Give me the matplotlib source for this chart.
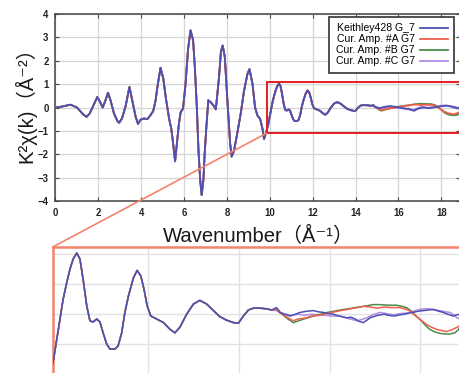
import matplotlib
matplotlib.use('Agg')
import matplotlib.pyplot as plt
from matplotlib.patches import Rectangle, ConnectionPatch

plt.rcParams['font.family'] = ['Liberation Sans', 'DejaVu Sans', 'Noto Sans CJK JP']

# ---- data ----
k_shared = [0, 0.3, 0.7, 1.0, 1.3, 1.45, 1.6, 1.8, 1.95, 2.1, 2.2, 2.33, 2.45, 2.57, 2.73,
            2.9, 2.97, 3.1, 3.27, 3.45, 3.58, 3.74, 3.85, 3.97, 4.13, 4.28, 4.4, 4.56, 4.67,
            4.75, 4.9, 5.03, 5.14, 5.3, 5.4, 5.47, 5.58, 5.65, 5.76, 5.84, 5.95, 6.07, 6.18,
            6.3, 6.42, 6.5, 6.6, 6.67, 6.75, 6.82, 6.9, 6.96, 7.04, 7.13, 7.27, 7.4, 7.48,
            7.63, 7.72, 7.8, 7.9, 8.02, 8.15, 8.22, 8.33, 8.49, 8.64, 8.8, 8.96, 9.05, 9.19,
            9.31, 9.42, 9.55, 9.66, 9.73, 9.85, 9.92, 9.99, 10.06, 10.13, 10.21, 10.28, 10.35,
            10.43, 10.5, 10.57, 10.65, 10.72, 10.79, 10.87, 10.94, 11.01, 11.09, 11.16, 11.27,
            11.34, 11.42, 11.49, 11.57, 11.68, 11.76, 11.84, 11.91, 11.98, 12.06, 12.19, 12.34,
            12.48, 12.59, 12.7, 12.85, 13.0, 13.14, 13.29, 13.44, 13.58, 13.73, 13.88, 13.99,
            14.1, 14.21, 14.32, 14.47, 14.61, 14.72]
chi_shared = [0, 0.04, 0.12, 0.0, -0.3, -0.4, -0.25, 0.15, 0.45, 0.2, 0.0, 0.3, 0.63, 0.3, -0.26,
              -0.6, -0.65, -0.47, 0.05, 0.88, 0.3, -0.4, -0.7, -0.52, -0.47, -0.5, -0.37, -0.15, 0.3,
              0.85, 1.7, 1.24, 0.46, -0.47, -0.9, -1.4, -2.3, -1.68, -0.68, -0.2, -0.05, 1.03, 2.45,
              3.3, 2.88, 1.74, -0.1, -1.82, -3.1, -3.75, -3.1, -1.97, -0.83, 0.31, 0.2, 0.05, -0.08,
              1.3, 2.4, 2.65, 2.16, 0.3, -1.56, -2.1, -1.85, -1.06, -0.27, 0.73, 1.45, 1.64, 1.02,
              0.01, -0.34, -0.49, -0.92, -1.35, -0.99, -0.75, -0.42, -0.08, 0.25, 0.53, 0.75, 0.92,
              1.02, 0.92, 0.58, 0.14, -0.11, -0.13, -0.08, -0.13, -0.31, -0.5, -0.58, -0.58,
              -0.53, -0.31, 0.03, 0.31, 0.61, 0.73, 0.64, 0.42, 0.14, -0.03, -0.08, -0.14,
              -0.25, -0.31, -0.22, 0.0, 0.17, 0.23, 0.17, 0.06, -0.04, -0.1, -0.14, -0.15,
              -0.03, 0.07, 0.1, 0.1, 0.09, 0.07]

k_tail_keithley = [14.83, 14.91, 15.0, 15.13, 15.25, 15.35, 15.5, 15.64, 15.75, 15.86, 15.97, 16.08,
                   16.2, 16.38, 16.47, 16.56, 16.65, 16.74, 16.82, 16.89, 17.05, 17.2, 17.3, 17.43,
                   17.55, 17.65, 17.75, 17.84, 17.95, 18.07, 18.18, 18.29, 18.4, 18.5, 18.6, 18.72,
                   18.8, 18.95]
chi_tail_keithley = [0.11, 0.03, 0.0, -0.03, 0.0, 0.03, 0.05, 0.06, 0.04, 0.03, 0.01, 0.0,
                     -0.03, -0.06, -0.05, -0.08, -0.12, -0.14, -0.1, -0.06, -0.02, 0.0, -0.02, -0.03,
                     -0.01, 0.0, 0.02, 0.03, 0.05, 0.06, 0.07, 0.08, 0.05, 0.03, 0.0, -0.03,
                     -0.01, 0.0]

k_tail_a = [14.83, 14.95, 15.08, 15.2, 15.3, 15.49, 15.6, 15.75, 15.88, 16.05, 16.24, 16.4, 16.6,
            16.75, 16.9, 17.05, 17.2, 17.35, 17.54, 17.65, 17.76, 17.85, 17.95, 18.05, 18.13,
            18.25, 18.35, 18.45, 18.57, 18.65, 18.72, 18.8, 18.87, 18.95]
chi_tail_a = [0.08, 0.0, -0.06, -0.11, -0.08, -0.06, -0.03, -0.02, 0.0, 0.03, 0.06, 0.08, 0.11,
              0.13, 0.12, 0.1, 0.12, 0.11, 0.11, 0.09, 0.06, 0.0, -0.06, -0.12, -0.17,
              -0.22, -0.25, -0.27, -0.29, -0.27, -0.25, -0.22, -0.19, -0.17]

k_tail_b = [14.83, 14.95, 15.08, 15.2, 15.35, 15.52, 15.7, 15.95, 16.1, 16.31, 16.5, 16.65, 16.82,
            16.95, 17.11, 17.3, 17.47, 17.6, 17.69, 17.77, 17.84, 17.93, 18.02, 18.1, 18.2, 18.3,
            18.43, 18.55, 18.65, 18.76, 18.83, 18.87, 18.95]
chi_tail_b = [0.09, 0.0, -0.08, -0.14, -0.1, -0.06, -0.02, 0.03, 0.05, 0.08, 0.1, 0.12, 0.14,
              0.16, 0.16, 0.15, 0.15, 0.13, 0.11, 0.07, 0.02, -0.05, -0.11, -0.18, -0.25, -0.29,
              -0.32, -0.33, -0.33, -0.31, -0.26, -0.21, -0.17]

k_tail_c = [14.83, 14.91, 15.0, 15.15, 15.3, 15.45, 15.6, 15.75, 15.9, 16.05, 16.23, 16.4, 16.6,
            16.7, 16.82, 16.95, 17.11, 17.25, 17.4, 17.55, 17.69, 17.85, 17.98, 18.1, 18.2, 18.3,
            18.43, 18.55, 18.65, 18.73, 18.8, 18.87, 18.95]
chi_tail_c = [0.06, 0.02, 0.01, -0.02, 0.0, -0.02, 0.0, -0.01, -0.02, -0.03, -0.03, -0.07, -0.11,
              -0.09, -0.06, -0.01, 0.03, 0.01, -0.01, 0.01, 0.02, 0.05, 0.08, 0.09, 0.09, 0.07,
              0.06, 0.04, 0.03, -0.01, -0.06, -0.08, -0.07]

labels = ['Keithley428 G_7', 'Cur. Amp. #A G7', 'Cur. Amp. #B G7', 'Cur. Amp. #C G7']
colors = ['#4f4fb3', '#f0604c', '#4c8a4c', '#b08ce6']
tails = [(k_tail_keithley, chi_tail_keithley), (k_tail_a, chi_tail_a),
         (k_tail_b, chi_tail_b), (k_tail_c, chi_tail_c)]

x_ticks = [0, 2, 4, 6, 8, 10, 12, 14, 16, 18]
y_ticks = [-4, -3, -2, -1, 0, 1, 2, 3, 4]
zoom_k = (9.85, 18.85)
zoom_chi = (-1.1, 1.1)

# ---- figure ----
W, H = 460, 373
fig = plt.figure(figsize=(W / 100, H / 100), dpi=100)

ax = fig.add_axes([55.5 / W, 1 - 201 / H, 404 / W, 187 / H])
ax.set_xlim(0, 18.85)
ax.set_ylim(-4, 4)
ax.set_xticks(x_ticks)
ax.set_yticks(y_ticks)
ax.grid(True, color='#d6d6d6', lw=0.9)
ax.set_axisbelow(True)
for s in ax.spines.values():
    s.set_color('#444444')
    s.set_linewidth(1.1)
ax.tick_params(direction='in', length=3, width=0.8, color='#444444', top=True, right=True,
               labelsize=6.9, labelcolor='#222222', pad=5)
for t in ax.get_xticklabels() + ax.get_yticklabels():
    t.set_fontweight('bold')

series = []
for (kt, ct) in tails:
    series.append((k_shared + kt, chi_shared + ct))

for i in [3, 2, 1, 0]:
    kk, cc = series[i]
    ax.plot(kk, cc, color=colors[i], lw=1.3, label=labels[i], zorder=3 + (3 - i))
handles = [ax.lines[3 - i] for i in range(4)]

leg = ax.legend(handles, labels, loc='upper right', bbox_to_anchor=((454 - 55.5) / 404, (201 - 17) / 187),
                markerfirst=False, fontsize=7.6, frameon=True, fancybox=False, framealpha=1,
                edgecolor='#333333', handlelength=2.6, handletextpad=0.5, labelspacing=0.1,
                borderpad=0.6, borderaxespad=0)
leg.get_frame().set_linewidth(1.2)
leg.set_zorder(20)

rect = Rectangle((zoom_k[0], zoom_chi[0]), zoom_k[1] - zoom_k[0], zoom_chi[1] - zoom_chi[0],
                 fill=False, edgecolor='#e51c23', lw=1.4, zorder=10, clip_on=False)
ax.add_patch(rect)

# inset
ax2 = fig.add_axes([52.7 / W, 1 - 380.2 / H, 410.9 / W, 133.2 / H])
ax2.set_xlim(9.9, 18.95)
ax2.set_ylim(-1.1, 1.12)
ax2.set_xticks([12, 14, 16, 18])
ax2.set_yticks([-1, -0.5, 0, 0.5, 1])
ax2.grid(True, color='#e2e2e2', lw=1.0)
ax2.set_axisbelow(True)
ax2.tick_params(length=0, labelbottom=False, labelleft=False)
for s in ax2.spines.values():
    s.set_color('#f4836b')
    s.set_linewidth(1.8)
for i in [3, 2, 1, 0]:
    kk, cc = series[i]
    ax2.plot(kk, cc, color=colors[i], lw=1.1, zorder=3 + (3 - i))

con = ConnectionPatch(xyA=(zoom_k[0], zoom_chi[0]), coordsA='data', axesA=ax,
                      xyB=(0, 1), coordsB='axes fraction', axesB=ax2,
                      color='#f4836b', lw=1.2, zorder=15)
fig.add_artist(con)

fig.text(259 / W, 1 - 236 / H, 'Wavenumber（Å⁻¹）', ha='center', va='center',
         fontsize=14.6, color='#1a1a1a')
fig.text(25 / W, 1 - 100 / H, 'K²χ(k)（Å⁻²）', ha='center', va='center', rotation=90,
         fontsize=14.6, color='#1a1a1a')

fig.savefig('out.png', dpi=100)
